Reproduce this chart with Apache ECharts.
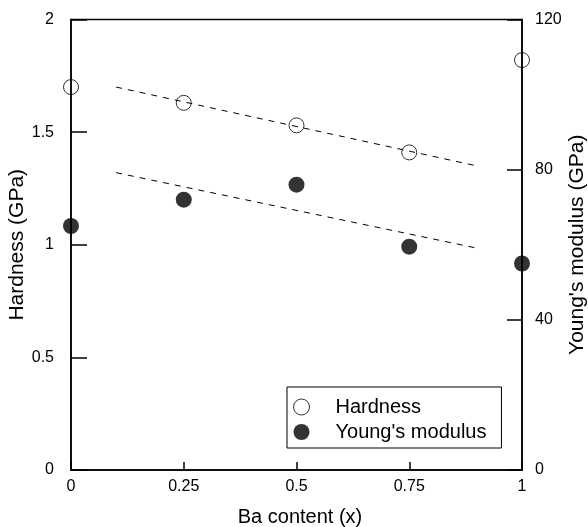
<!DOCTYPE html>
<html>
<head>
<meta charset="utf-8">
<script src="https://cdn.jsdelivr.net/npm/echarts@6/dist/echarts.min.js"></script>
<style>
html,body{margin:0;padding:0;background:#fff;}
#chart{width:588px;height:527px;}
</style>
</head>
<body>
<div id="chart"></div>
<script>
// Data
const baContent = [0, 0.25, 0.5, 0.75, 1];
const hardness = [1.70, 1.63, 1.53, 1.41, 1.82];
const youngs = [65, 72, 76, 59.5, 55];
const hardnessTrendX = [0.1, 0.9];
const hardnessTrendY = [1.70, 1.35];
const youngsTrendX = [0.1, 0.9];
const youngsTrendY = [79.2, 59.1];

const FONT = "'Liberation Sans', Arial, Helvetica, sans-serif";
const chart = echarts.init(document.getElementById('chart'));

const pairs = (xs, ys) => xs.map((x, i) => [x, ys[i]]);

chart.setOption({
  animation: false,
  backgroundColor: '#fff',
  textStyle: { fontFamily: FONT, color: '#000' },
  grid: { left: 71, right: 66, top: 19.5, bottom: 57, containLabel: false, outerBoundsMode: 'none', show: true, borderColor: '#000', borderWidth: 1.5, backgroundColor: 'transparent' },
  xAxis: {
    type: 'value', min: 0, max: 1, interval: 0.25,
    name: 'Ba content (x)', nameLocation: 'middle', nameGap: 37, nameMoveOverlap: false,
    nameTextStyle: { fontSize: 20, fontFamily: FONT, color: '#000', padding: [0, 0, 0, 7] },
    axisLine: { show: true, lineStyle: { color: '#000', width: 1.5 } },
    axisTick: { show: true, inside: true, length: 8, lineStyle: { color: '#000', width: 1.5 } },
    axisLabel: { fontSize: 16, fontFamily: FONT, color: '#000', margin: 9 },
    splitLine: { show: false }
  },
  yAxis: [
    {
      type: 'value', min: 0, max: 2, interval: 0.5, position: 'left',
      name: 'Hardness (GPa)', nameLocation: 'middle', nameGap: 43, nameMoveOverlap: false,
      nameTextStyle: { fontSize: 21, fontFamily: FONT, color: '#000' },
      axisLine: { show: true, lineStyle: { color: '#000', width: 1.5 } },
      axisTick: { show: true, inside: true, length: 16, lineStyle: { color: '#000', width: 1.5 } },
      axisLabel: { fontSize: 16, fontFamily: FONT, color: '#000', margin: 17 },
      splitLine: { show: false }
    },
    {
      type: 'value', min: 0, max: 120, interval: 40, position: 'right',
      name: "Young's modulus (GPa)", nameLocation: 'middle', nameGap: 45, nameMoveOverlap: false,
      nameTextStyle: { fontSize: 21, fontFamily: FONT, color: '#000' },
      axisLine: { show: true, lineStyle: { color: '#000', width: 1.5 } },
      axisTick: { show: true, inside: true, length: 15, lineStyle: { color: '#000', width: 1.5 } },
      axisLabel: { fontSize: 16, fontFamily: FONT, color: '#000', margin: 13 },
      splitLine: { show: false }
    }
  ],
  legend: {
    orient: 'vertical', left: 287, top: 387,
    padding: [10, 15, 6, 6], itemGap: 5,
    itemWidth: 16, itemHeight: 16,
    backgroundColor: '#fff', borderColor: '#000', borderWidth: 1,
    textStyle: { fontSize: 20, fontFamily: FONT, color: '#000', padding: [0, 0, 0, 21] },
    data: [
      { name: 'Hardness', icon: 'circle', itemStyle: { color: '#fff', borderColor: '#000', borderWidth: 1 } },
      { name: "Young's modulus", icon: 'circle', itemStyle: { color: '#000', borderWidth: 0 } }
    ]
  },
  series: [
    {
      name: 'Hardness trend', type: 'line', yAxisIndex: 0, data: pairs(hardnessTrendX, hardnessTrendY),
      showSymbol: false, symbol: 'none', silent: true,
      lineStyle: { color: '#000', width: 1, type: [6, 6] }, z: 2
    },
    {
      name: 'Young trend', type: 'line', yAxisIndex: 1, data: pairs(youngsTrendX, youngsTrendY),
      showSymbol: false, symbol: 'none', silent: true,
      lineStyle: { color: '#000', width: 1, type: [6, 6] }, z: 2
    },
    {
      name: 'Hardness', type: 'scatter', yAxisIndex: 0, data: pairs(baContent, hardness),
      symbol: 'circle', symbolSize: 15, clip: false,
      itemStyle: { color: 'rgba(0,0,0,0)', borderColor: '#000', borderWidth: 1 }, z: 3
    },
    {
      name: "Young's modulus", type: 'scatter', yAxisIndex: 1, data: pairs(baContent, youngs),
      symbol: 'circle', symbolSize: 16, clip: false,
      itemStyle: { color: '#000' }, z: 3
    }
  ]
});
</script>
</body>
</html>
